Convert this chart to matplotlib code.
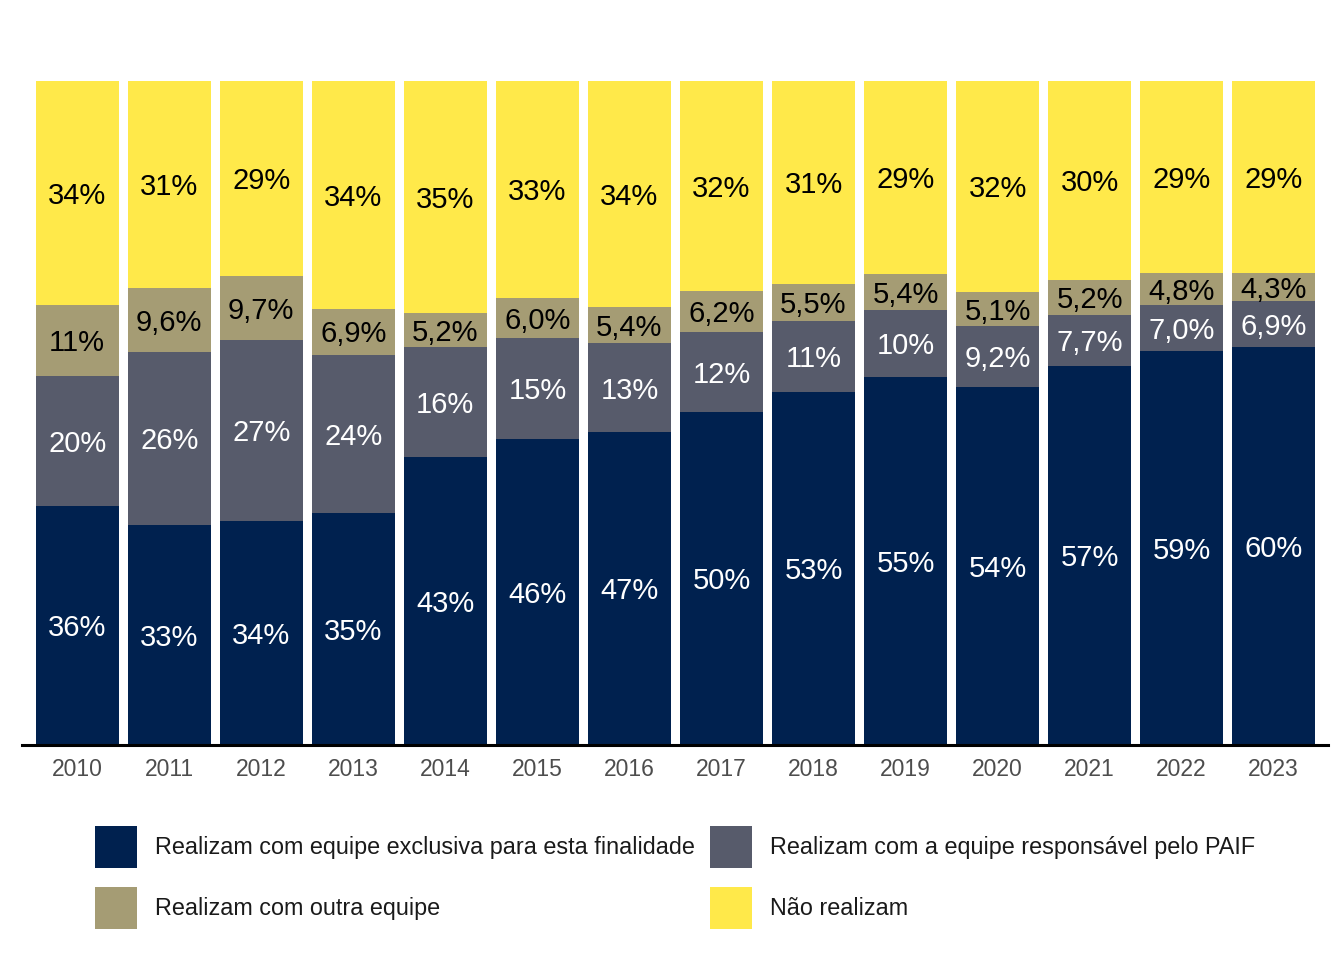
import matplotlib

matplotlib.use("Agg")

import matplotlib.pyplot as plt
import numpy as np
from matplotlib.patches import Patch

plt.rcParams["font.family"] = ["Liberation Sans", "DejaVu Sans"]

NAVY = "#00214f"
SLATE = "#575b6b"
TAN = "#a59c74"
YELLOW = "#ffe94a"

years = ["2010", "2011", "2012", "2013", "2014", "2015", "2016",
         "2017", "2018", "2019", "2020", "2021", "2022", "2023"]
exclusiva = [36.0, 33.1, 33.7, 34.9, 43.4, 46.1, 47.1, 50.2, 53.1, 55.4, 53.9, 57.1, 59.3, 59.9]
paif = [19.6, 26.1, 27.3, 23.9, 16.5, 15.2, 13.4, 12.0, 10.8, 10.1, 9.2, 7.7, 7.0, 6.9]
outra = [10.6, 9.6, 9.7, 6.9, 5.2, 6.0, 5.4, 6.2, 5.5, 5.4, 5.1, 5.2, 4.8, 4.3]
nao = [33.8, 31.2, 29.3, 34.3, 34.9, 32.7, 34.1, 31.6, 30.6, 29.1, 31.8, 30.0, 28.9, 28.9]

series = [
    ("Realizam com equipe exclusiva para esta finalidade", exclusiva, NAVY, "white"),
    ("Realizam com a equipe responsável pelo PAIF", paif, SLATE, "white"),
    ("Realizam com outra equipe", outra, TAN, "black"),
    ("Não realizam", nao, YELLOW, "black"),
]


def fmt(v):
    if v >= 9.95:
        return f"{v:.0f}%"
    return f"{v:.1f}%".replace(".", ",")


fig = plt.figure(figsize=(13.44, 9.6), dpi=100)
ax = fig.add_axes([22 / 1344, 1 - 745 / 960, 1306 / 1344, 664 / 960])

x = np.arange(len(years))
bottom = np.zeros(len(years))
for name, vals, color, tcolor in series:
    vals = np.array(vals)
    ax.bar(x, vals, width=0.9, bottom=bottom, color=color, linewidth=0, zorder=2)
    for xi, b, v in zip(x, bottom, vals):
        ax.annotate(fmt(v), (xi, b + v / 2), xytext=(0, -2), textcoords="offset points",
                    ha="center", va="center", fontsize=21, color=tcolor, zorder=3)
    bottom += vals

ax.set_xlim(-0.6, len(years) - 0.41)
ax.set_ylim(0, 100)
ax.set_xticks(x, years)
ax.set_yticks([])
for side in ["top", "right", "left"]:
    ax.spines[side].set_visible(False)
ax.spines["bottom"].set_linewidth(2.2)
ax.spines["bottom"].set_color("black")
ax.spines["bottom"].set_zorder(4)
ax.tick_params(axis="x", length=0, pad=9, labelsize=16.5, labelcolor="#4d4d4d")

handles = [Patch(facecolor=c, edgecolor="none") for _, _, c, _ in series]
labels = [n for n, _, _, _ in series]
order = [0, 2, 1, 3]
fig.legend(
    [handles[i] for i in order],
    [labels[i] for i in order],
    ncol=2,
    loc="upper left",
    bbox_to_anchor=(95 / 1344, 1 - 826 / 960),
    frameon=False,
    fontsize=16.8,
    handlelength=1.8,
    handleheight=2.39,
    handletextpad=0.77,
    columnspacing=0.65,
    labelspacing=0.81,
    borderpad=0,
    borderaxespad=0,
    labelcolor="#1a1a1a",
)

fig.savefig("out.png", dpi=100)
